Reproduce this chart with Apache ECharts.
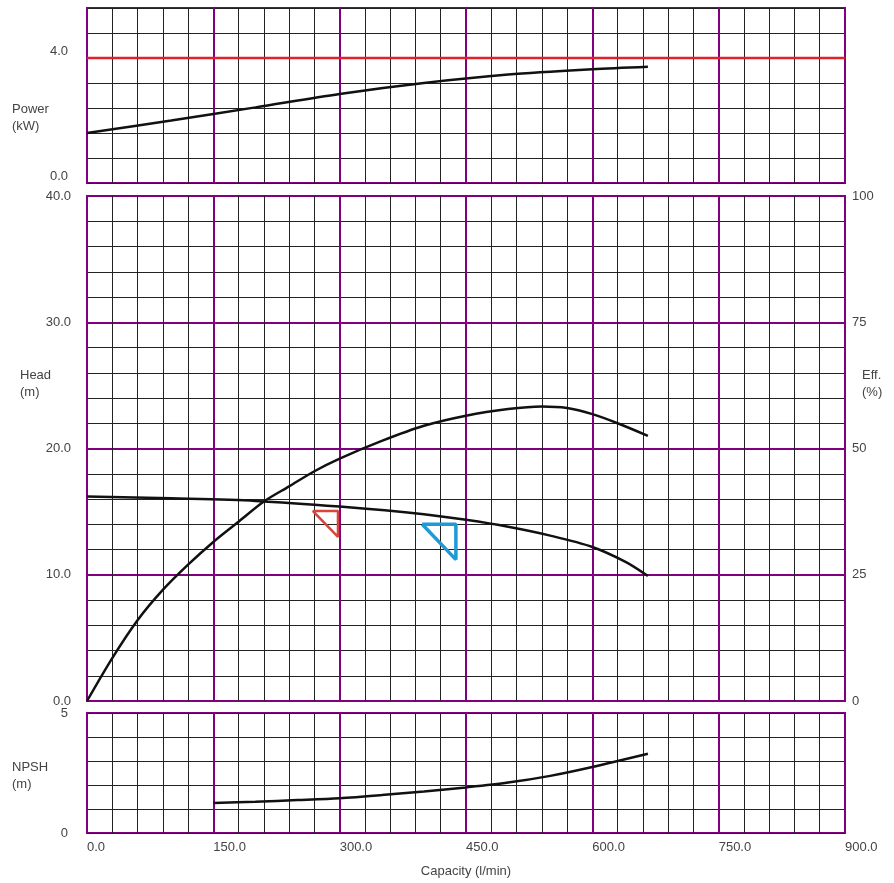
<!DOCTYPE html>
<html><head><meta charset="utf-8">
<script src="https://cdn.jsdelivr.net/npm/echarts@6/dist/echarts.min.js"></script>
<style>html,body{margin:0;background:#fff}#c{width:894px;height:883px}</style>
</head><body><div id="c"></div>
<script>
const powerQ=[0,100,200,300,400,500,600,666];
const powerKW=[1.6,2.0,2.42,2.85,3.2,3.47,3.64,3.72];
const motorKW=4.0;
const headQ=[0,100,200,300,400,450,500,550,600,640,666];
const headM=[16.2,16.05,15.85,15.4,14.8,14.35,13.8,13.1,12.2,11.0,9.9];
const effQ=[0,30,60,90,120,150,180,210,240,270,300,350,400,450,500,540,570,600,630,666];
const effPct=[0,8.5,16,22,27,31.5,35.5,39.5,42.5,45.5,48,51.5,54.5,56.5,57.8,58.3,58,56.8,55,52.5];
const npshQ=[150,200,250,300,350,400,450,500,550,600,666];
const npshM=[1.25,1.3,1.37,1.45,1.58,1.73,1.9,2.1,2.38,2.75,3.3];
const redTri=[[268,15.05],[298,15.05],[298,13.0],[268,15.05]];
const blueTri=[[398,14.0],[438,14.0],[438,11.2],[398,14.0]];
const zip=(a,b)=>a.map((v,i)=>[v,b[i]]);
const P='#800080', F='Liberation Sans', TC='#444', FS=13;
const grids=[{left:87,right:49,top:8,height:175},{left:87,right:49,top:196,height:505},{left:87,right:49,top:713,height:120}];
grids.forEach(g=>{g.show=true;g.borderColor=P;g.borderWidth=2;});
const xAxes=[];
[0,1,2].forEach(i=>{
  xAxes.push({gridIndex:i,type:'value',position:'bottom',min:0,max:900,interval:30,axisLabel:{show:false},axisTick:{show:false},axisLine:{show:false},splitLine:{lineStyle:{color:'#222',width:1}}});
  xAxes.push({gridIndex:i,type:'value',position:'bottom',min:0,max:900,interval:150,axisTick:{show:false},axisLine:{show:false},splitLine:{lineStyle:{color:P,width:2}},
    axisLabel:{show:i===2,fontFamily:F,fontSize:FS,color:TC,align:'left',margin:8,formatter:v=>v.toFixed(1)},
    name:i===2?'Capacity (l/min)':'',nameLocation:'middle',nameGap:32,nameTextStyle:{fontFamily:F,fontSize:FS,color:TC}});
});
const yAxes=[
 {gridIndex:0,type:'value',position:'left',min:0,max:5.6,interval:0.8,axisTick:{show:false},axisLine:{show:false},splitLine:{lineStyle:{color:'#222'}},
  axisLabel:{fontFamily:F,fontSize:FS,color:TC,margin:19,verticalAlign:'bottom',formatter:v=>(Math.abs(v)<1e-6||Math.abs(v-4)<1e-6)?v.toFixed(1):''}},
 {gridIndex:1,type:'value',position:'left',min:0,max:40,interval:2,axisTick:{show:false},axisLine:{show:false},axisLabel:{show:false},splitLine:{lineStyle:{color:'#222'}}},
 {gridIndex:1,type:'value',position:'left',min:0,max:40,interval:10,axisTick:{show:false},axisLine:{show:false},splitLine:{lineStyle:{color:P,width:2}},
  axisLabel:{fontFamily:F,fontSize:FS,color:TC,margin:16,formatter:v=>v.toFixed(1)}},
 {gridIndex:1,type:'value',position:'right',min:0,max:100,interval:25,axisTick:{show:false},axisLine:{show:false},splitLine:{show:false},
  axisLabel:{fontFamily:F,fontSize:FS,color:TC,margin:7}},
 {gridIndex:2,type:'value',position:'left',min:0,max:5,interval:1,axisTick:{show:false},axisLine:{show:false},splitLine:{lineStyle:{color:'#222'}},
  axisLabel:{fontFamily:F,fontSize:FS,color:TC,margin:19,formatter:v=>(v===0||v===5)?String(v):''}}
];
const L=(x,y,data,color,w,extra)=>Object.assign({type:'line',xAxisIndex:x,yAxisIndex:y,data,symbol:'none',smooth:0.3,lineStyle:{color,width:w},z:5},extra||{});
const series=[
 L(0,0,[[0,motorKW],[900,motorKW]],'#e0202a',2.5,{smooth:false}),
 L(0,0,zip(powerQ,powerKW),'#111',2.5),
 L(2,2,zip(headQ,headM),'#111',2.5),
 L(2,3,zip(effQ,effPct),'#111',2.5),
 L(2,2,redTri,'#d9453c',2.5,{smooth:false}),
 L(2,2,blueTri,'#1e9ad6',3.5,{smooth:false}),
 L(4,4,zip(npshQ,npshM),'#111',2.5)
];
const txt=(l,t,s)=>({type:'text',left:l,top:t,style:{text:s,font:FS+'px '+F,fill:TC,lineHeight:17}});
const chart=echarts.init(document.getElementById('c'));
chart.setOption({animation:false,grid:grids,xAxis:xAxes,yAxis:yAxes,series,
 graphic:[txt(12,101,'Power\n(kW)'),txt(20,367,'Head\n(m)'),txt(862,367,'Eff.\n(%)'),txt(12,759,'NPSH\n(m)')]});
</script></body></html>
